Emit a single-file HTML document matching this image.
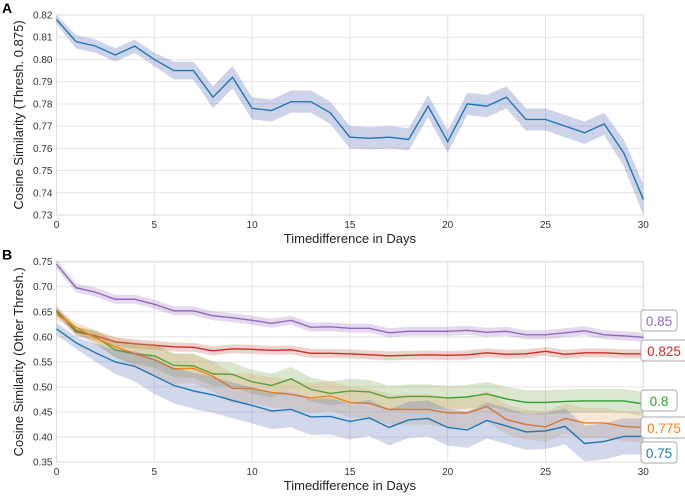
<!DOCTYPE html>
<html><head><meta charset="utf-8">
<style>
body{margin:0;background:#fff;width:685px;height:494px;overflow:hidden;font-family:"Liberation Sans",Arial,sans-serif}
svg text{font-family:"Liberation Sans",Arial,sans-serif}
</style></head>
<body>
<svg id="chart" width="685" height="494" xmlns="http://www.w3.org/2000/svg"></svg>
<script>
const days = Array.from({length:31},(_,i)=>i);
const xTicks = [0,5,10,15,20,25,30];
const yTicksA = [0.73,0.74,0.75,0.76,0.77,0.78,0.79,0.80,0.81,0.82];
const yTicksB = [0.35,0.40,0.45,0.50,0.55,0.60,0.65,0.70,0.75];
const seriesA = [.818,.808,.806,.802,.806,.800,.795,.795,.783,.792,.778,.777,.781,.781,.776,.765,.7645,.765,.764,.779,.763,.780,.779,.783,.773,.773,.770,.767,.771,.758,.737];
const errA = [.002,.003,.003,.003,.003,.003,.004,.004,.005,.005,.005,.005,.005,.005,.005,.005,.005,.005,.005,.005,.005,.005,.005,.005,.005,.005,.005,.005,.005,.006,.007];
const s085 = [.745,.698,.689,.675,.675,.665,.652,.652,.642,.638,.633,.627,.633,.619,.620,.617,.617,.608,.611,.611,.611,.613,.609,.611,.604,.604,.608,.612,.604,.602,.599];
const s0825 = [.653,.610,.602,.590,.586,.583,.580,.579,.572,.576,.575,.573,.574,.567,.567,.566,.564,.562,.563,.564,.563,.564,.568,.565,.566,.571,.565,.568,.568,.566,.566];
const s08 = [.650,.613,.600,.574,.566,.562,.543,.542,.526,.525,.510,.503,.516,.495,.487,.492,.490,.478,.481,.481,.478,.480,.486,.476,.469,.469,.471,.472,.472,.472,.466];
const s0775 = [.645,.619,.598,.580,.566,.554,.536,.537,.521,.497,.497,.489,.485,.478,.482,.469,.467,.455,.455,.455,.448,.448,.461,.435,.425,.420,.437,.428,.428,.421,.419];
const s075 = [.616,.588,.568,.550,.541,.522,.503,.492,.484,.473,.463,.452,.455,.440,.441,.431,.438,.419,.434,.437,.419,.414,.433,.422,.410,.412,.421,.387,.391,.401,.401];
const errB = [.010,.010,.015,.020,.025,.030,.030,.030,.030,.030,.030,.030,.030,.030,.030,.030,.030,.030,.030,.030,.030,.030,.030,.030,.030,.030,.030,.030,.030,.030,.030];
const labelsB = ["0.85","0.825","0.8","0.775","0.75"];

const svg=document.getElementById('chart');
const NS='http://www.w3.org/2000/svg';
function mk(tag,attrs,parent){const e=document.createElementNS(NS,tag);for(const k in attrs)e.setAttribute(k,attrs[k]);(parent||svg).appendChild(e);return e;}
const X0=56.5,X1=643.3;
const x=d=>X0+(d-0)/30*(X1-X0);

function panel(top,bot,ymin,ymax,yTicks,title,letter,fmt,name){
  const g=mk('g',{});
  
  
  const y=v=>bot-(v-ymin)/(ymax-ymin)*(bot-top);
  for(const t of yTicks){
    const l=mk('line',{x1:X0,x2:X1,y1:y(t),y2:y(t),stroke:'#e3e3e3','stroke-width':1},g);
    
    const tx=mk('text',{x:X0-4,y:y(t)+3.5,'text-anchor':'end','font-size':10,fill:'#333'},g);
    
    tx.textContent=t.toFixed(2);
  }
  for(const t of xTicks){
    const l=mk('line',{x1:x(t),x2:x(t),y1:top,y2:bot,stroke:'#e3e3e3','stroke-width':1},g);
    
    const tx=mk('text',{x:x(t),y:bot+13,'text-anchor':'middle','font-size':10,fill:'#333'},g);
    
    tx.textContent=t;
  }
  const fr=mk('rect',{x:X0,y:top,width:X1-X0,height:bot-top,fill:'none',stroke:'#ddd'},g);
  
  const xl=mk('text',{x:(X0+X1)/2,y:bot+28,'text-anchor':'middle','font-size':13,fill:'#222'},g);
  
  xl.textContent='Timedifference in Days';
  const cy=(top+bot)/2;
  const yl=mk('text',{x:23,y:cy,'text-anchor':'middle','font-size':13,fill:'#222',transform:`rotate(-90 23 ${cy})`},g);
  
  yl.textContent=title;
  const le=mk('text',{x:2,y:top-2,'font-size':14,'font-weight':'bold',fill:'#000'},g);
  
  le.textContent=letter;
  return {g,y};
}
function series(p,vals,err,color,bandColor,op,name){
  let d='';
  days.forEach((dd,i)=>{d+=(i?'L':'M')+x(dd)+','+p.y(vals[i]+err[i]);});
  for(let i=days.length-1;i>=0;i--)d+='L'+x(days[i])+','+p.y(vals[i]-err[i]);
  const b=mk('path',{d:d+'Z',fill:bandColor,'fill-opacity':op,stroke:'none'},p.g);
  
  const l=mk('polyline',{points:days.map((dd,i)=>x(dd)+','+p.y(vals[i])).join(' '),fill:'none',stroke:color,'stroke-width':1.4},p.g);
  
}
const A=panel(15,215,0.73,0.82,yTicksA,'Cosine Similarity (Thresh. 0.875)','A',2,'panel-a');
series(A,seriesA,errA,'#1f77b4','#4c62b0',0.28,'thresh-0875');

const B=panel(261.7,462,0.35,0.75,yTicksB,'Cosine Similarity (Other Thresh.)','B',2,'panel-b');
const bs=[s085,s0825,s08,s0775,s075];
const cols=['#9467bd','#d62728','#2ca02c','#ff7f0e','#1f77b4'];
const bands=['#9467bd','#b5533a','#6a9a3c','#e0a060','#4c62b0'];
const mult=[1,1,0.8,1,1.2];
const names=['thresh-085','thresh-0825','thresh-08','thresh-0775','thresh-075'];
const labY=[321,351,401,428,453];
bs.forEach((s,k)=>{
  const e=errB.map((v,i)=>k<2?0.009:v*mult[k]);
  series(B,s,e,cols[k],bands[k],0.25,names[k]);
});
labelsB.forEach((t,k)=>{
  const w=k==1||k==3?46:36;
  const r=mk('rect',{x:641,y:labY[k]-11,width:w,height:21,rx:3,fill:'#fff',stroke:'#aaa'});
  
  const tx=mk('text',{x:641+w/2,y:labY[k]+5,'text-anchor':'middle','font-size':13.5,fill:cols[k]});
  
  tx.textContent=t;
});
</script>
</body></html>
